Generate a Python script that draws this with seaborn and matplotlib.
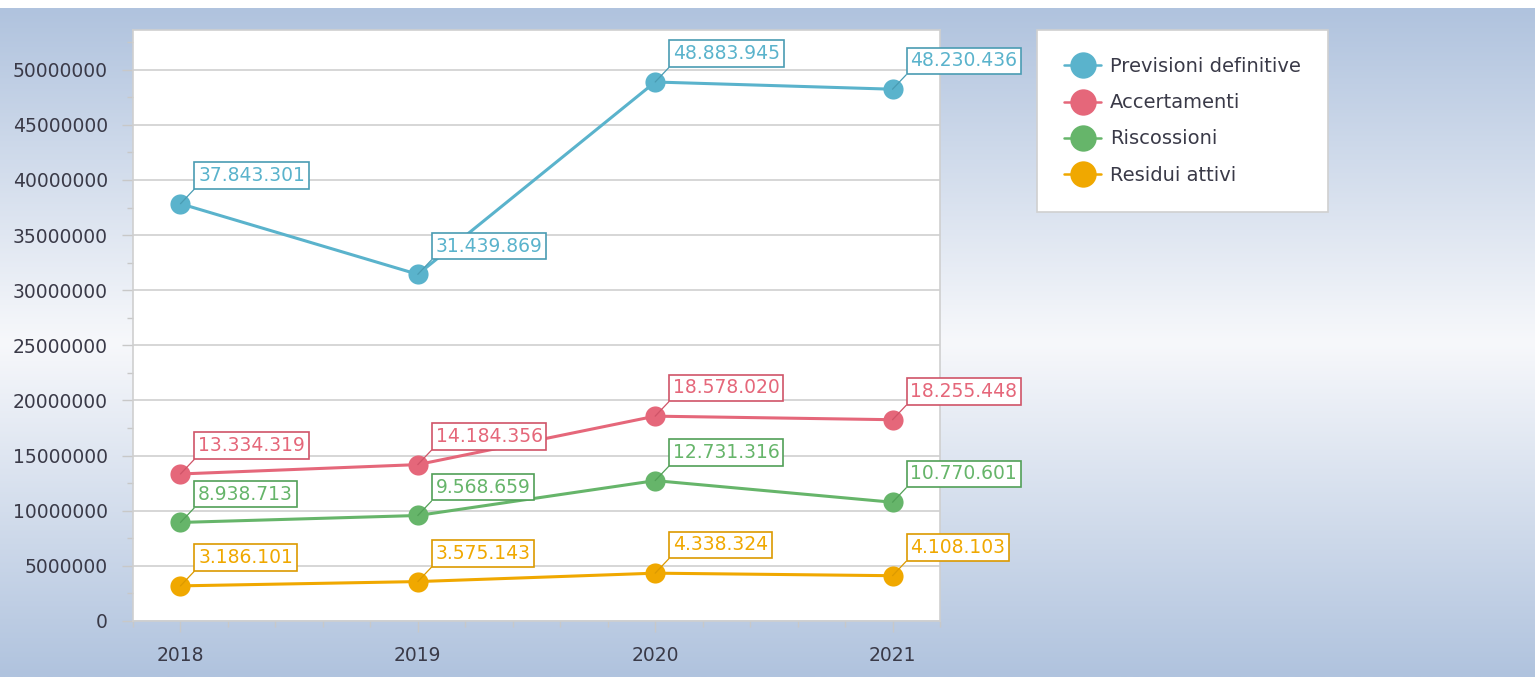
import numpy as np
import pandas as pd
import matplotlib
matplotlib.use("Agg")
import matplotlib.pyplot as plt
import seaborn as sns
from matplotlib.colors import LinearSegmentedColormap
from matplotlib.ticker import MultipleLocator

# data
anni = [2018, 2019, 2020, 2021]
previsioni = [37843301, 31439869, 48883945, 48230436]
accertamenti = [13334319, 14184356, 18578020, 18255448]
riscossioni = [8938713, 9568659, 12731316, 10770601]
residui = [3186101, 3575143, 4338324, 4108103]

serie = ["Previsioni definitive", "Accertamenti", "Riscossioni", "Residui attivi"]
colori = ["#5ab3cc", "#e5677a", "#66b56a", "#f0a800"]
bordi = ["#4a9cb3", "#d05468", "#52a057", "#dc9a00"]

df = pd.DataFrame({"anno": anni * 4,
                   "valore": previsioni + accertamenti + riscossioni + residui,
                   "serie": np.repeat(serie, len(anni))})

sns.set_style("white")
plt.rcParams["font.family"] = ["DejaVu Sans"]

fig = plt.figure(figsize=(15.35, 6.77), dpi=100, facecolor="white")

# background gradient (white strip on top)
bg = fig.add_axes([0, 0, 1, 1 - 8 / 677], zorder=-10)
cmap = LinearSegmentedColormap.from_list(
    "bg", [(0, "#b0c3de"), (0.5, "#f7f8fb"), (1, "#b0c3de")])
bg.imshow(np.linspace(0, 1, 256).reshape(-1, 1), aspect="auto", cmap=cmap,
          extent=[0, 1, 0, 1])
bg.axis("off")

ax = fig.add_axes([133 / 1535, 1 - 621 / 677, (940 - 133) / 1535, (621 - 30) / 677])
ax.set_facecolor("white")

sns.lineplot(data=df, x="anno", y="valore", hue="serie", hue_order=serie,
             palette=colori, marker="o", markersize=14.5, markeredgewidth=0,
             linewidth=2.2, ax=ax, zorder=3)

for s, c, e in zip(serie, colori, bordi):
    d = df[df["serie"] == s]
    for x, y in zip(d["anno"], d["valore"]):
        lab = f"{y:,}".replace(",", ".")
        ax.annotate(lab, (x, y), xytext=(12.8, 13.5), textcoords="offset points",
                    ha="left", va="bottom", fontsize=13.5, color=c, zorder=5,
                    bbox=dict(boxstyle="square,pad=0.2", fc="white", ec=e, lw=1.2),
                    arrowprops=dict(arrowstyle="-", color=e, lw=0.9,
                                    relpos=(0, 0), shrinkA=0, shrinkB=0))

ax.set_xlim(2017.8, 2021.2)
ax.set_ylim(0, 53.6e6)
ax.set_xticks(anni)
ax.set_xticklabels([str(a) for a in anni])
ax.xaxis.set_minor_locator(MultipleLocator(0.2))
ax.yaxis.set_major_locator(MultipleLocator(5e6))
ax.yaxis.set_minor_locator(MultipleLocator(2.5e6))
ax.yaxis.set_major_formatter(matplotlib.ticker.FuncFormatter(lambda v, p: f"{int(v)}"))
ax.grid(axis="y", color="#d3d3d3", lw=1.3)
ax.grid(axis="x", visible=False)
ax.set_xlabel("")
ax.set_ylabel("")
for sp in ax.spines.values():
    sp.set_color("#cfcfcf")
    sp.set_linewidth(1.2)
ax.tick_params(axis="both", which="major", length=8, width=1, color="#c8c8c8",
               labelsize=13.5, labelcolor="#3a3a48", pad=10, left=True, bottom=True)
ax.tick_params(axis="both", which="minor", length=4, width=1, color="#c8c8c8",
               left=True, bottom=True)

leg = ax.legend(loc="upper left", bbox_to_anchor=(1037 / 1535, 1 - 30 / 677),
                bbox_transform=fig.transFigure, frameon=True, fancybox=False,
                edgecolor="#d0d0d0", framealpha=1, fontsize=14,
                handlelength=1.9, handletextpad=0.45, labelspacing=0.88,
                borderpad=1.4, borderaxespad=0)
for t in leg.get_texts():
    t.set_color("#3a3a48")
for h in leg.legend_handles:
    h.set_markersize(19)
    h.set_linewidth(1.8)
leg.get_frame().set_linewidth(1.2)

fig.savefig("out.png", dpi=100, facecolor="white")
